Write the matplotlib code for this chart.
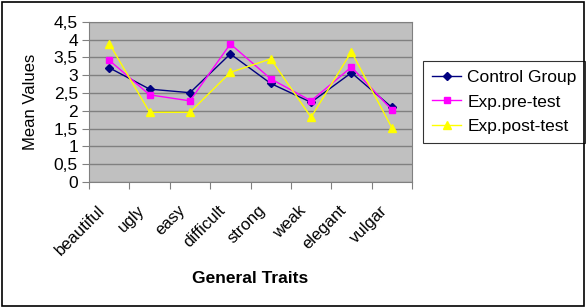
import matplotlib
matplotlib.use("Agg")
import matplotlib.pyplot as plt
from matplotlib.patches import Rectangle
from matplotlib.ticker import FuncFormatter, MultipleLocator

traits = ["beautiful", "ugly", "easy", "difficult", "strong", "weak", "elegant", "vulgar"]
control = [3.21, 2.61, 2.51, 3.60, 2.77, 2.24, 3.07, 2.10]
pre_test = [3.42, 2.45, 2.28, 3.88, 2.90, 2.28, 3.23, 2.03]
post_test = [3.89, 1.96, 1.96, 3.08, 3.46, 1.82, 3.66, 1.53]

plt.rcParams['font.family'] = ['Liberation Sans', 'DejaVu Sans']

fig = plt.figure(figsize=(5.86, 3.08), dpi=100)
ax = fig.add_axes([0.152, 0.409, 0.551, 0.520])
ax.set_facecolor('#C0C0C0')

x = range(len(traits))
ax.plot(x, control, color='#000080', marker='D', markersize=4, linewidth=1, label='Control Group')
ax.plot(x, pre_test, color='#FF00FF', marker='s', markersize=5, linewidth=1, label='Exp.pre-test')
ax.plot(x, post_test, color='#FFFF00', marker='^', markersize=6, linewidth=1, label='Exp.post-test')

ax.set_xlim(-0.5, len(traits) - 0.5)
ax.set_ylim(0, 4.5)
ax.yaxis.set_major_locator(MultipleLocator(0.5))
ax.yaxis.set_major_formatter(FuncFormatter(lambda v, p: f"{v:g}".replace('.', ',')))
ax.grid(axis='y', color='#808080', linewidth=1)
ax.set_axisbelow(True)

# x ticks sit on category boundaries; category names drawn as rotated text
ax.set_xticks([i - 0.5 for i in range(len(traits) + 1)])
ax.set_xticklabels([])
ax.tick_params(axis='x', which='major', length=5, direction='out', color='#808080')
for i, name in enumerate(traits):
    ax.annotate(name, xy=(i, 0), xycoords=ax.get_xaxis_transform(),
                xytext=(-9, -15), textcoords='offset points',
                rotation=45, ha='right', va='top', rotation_mode='anchor',
                fontsize=12, annotation_clip=False)
ax.tick_params(axis='y', length=5, direction='out', color='#808080', labelsize=12.5, pad=3)

for s in ['top', 'right', 'left', 'bottom']:
    ax.spines[s].set_color('#808080')

ax.set_ylabel('Mean Values', fontsize=12, labelpad=11)
fig.text(0.4275, 0.0974, 'General Traits', fontsize=12.5, fontweight='bold',
         ha='center', va='center')

leg = ax.legend(loc='upper left', bbox_to_anchor=(0.722, 0.802),
                bbox_transform=fig.transFigure, fontsize=12.5,
                frameon=True, fancybox=False, edgecolor='black', borderaxespad=0,
                handlelength=1.7, handletextpad=0.35, labelspacing=0.55, borderpad=0.5)
leg.get_frame().set_linewidth(0.8)

fig.patches.append(Rectangle((0.003, 0.005), 0.994, 0.99, transform=fig.transFigure,
                             fill=False, edgecolor='black', linewidth=1.2))

fig.savefig('out.png', dpi=100)
